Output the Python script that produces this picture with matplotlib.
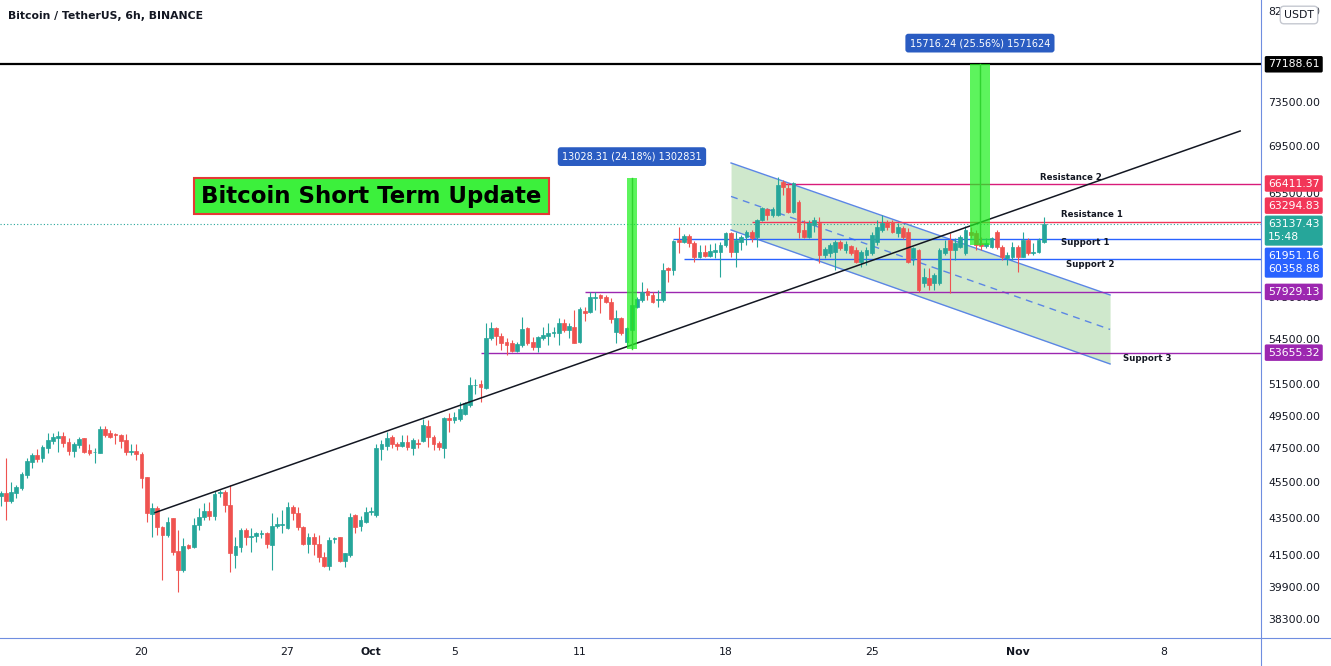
import numpy as np
import pandas as pd
import matplotlib
matplotlib.use('Agg')
import matplotlib.pyplot as plt
import matplotlib.dates as mdates
from matplotlib.lines import Line2D

# BTC/USDT 6h candles
start = '2021-09-13 06:00'
opens = [44790, 44940, 44500, 44980, 45230, 45990, 46760, 47160, 46960, 47600,
         48020, 48170, 48320, 47960, 47420, 47760, 48170, 47460, 47320, 47300,
         48720, 48470, 48430, 48370, 48060, 47360, 47400, 47190, 45860, 43780,
         44100, 43050, 42630, 43580, 41780, 40800, 42100, 41980, 43180, 43610,
         43950, 43690, 44940, 45030, 44280, 41570, 42010, 42910, 42540, 42580,
         42690, 42740, 42100, 43120, 43180, 43000, 44190, 43820, 43090, 42150,
         42510, 42150, 41480, 41000, 42400, 42510, 41270, 41570, 43730, 43120,
         43360, 43910, 43730, 47520, 47700, 48230, 47820, 47700, 47960, 47560,
         47900, 48020, 48920, 48260, 47900, 47560, 49400, 49290, 49330, 49670,
         50230, 51520, 51580, 51300, 54640, 55330, 54800, 54400, 54300, 53790,
         54180, 55330, 54400, 54060, 54640, 54800, 54990, 54990, 55680, 55220,
         55440, 54400, 56580, 56500, 57460, 57700, 57540, 57220, 55080, 56030,
         54400, 55220, 56860, 57340, 58000, 57700, 57340, 57340, 59680, 59560,
         61850, 61720, 62160, 61640, 60560, 60950, 60620, 60950, 60950, 61470,
         62420, 60950, 61720, 62110, 62500, 62110, 63420, 64290, 63830, 63830,
         66570, 66020, 64100, 64910, 62640, 62110, 63030, 63160, 60700, 60830,
         60950, 61720, 61080, 61390, 61080, 60180, 60700, 60830, 61720, 62640,
         63290, 63290, 62380, 62770, 62500, 60440, 61080, 58560, 58930, 58560,
         58560, 60830, 61850, 61080, 61330, 60850, 62500, 62380, 61620, 61390,
         61330, 62500, 61330, 60440, 60560, 61330, 60560, 61850, 60830, 60950,
         61720]
highs = [45070, 46960, 45600, 45420, 46180, 47000, 47300, 47500, 47760, 48470,
         48510, 48610, 48530, 48170, 47960, 48230, 48170, 47820, 47560, 48920,
         48920, 48680, 48470, 48430, 48430, 47820, 47820, 47340, 45870, 44380,
         44230, 43120, 43630, 43580, 42900, 42450, 42150, 43540, 44100, 44380,
         44470, 45090, 45130, 45130, 45420, 42540, 43000, 43000, 43000, 42810,
         42910, 42810, 43820, 43610, 44000, 44470, 44280, 44150, 43120, 42730,
         42730, 42630, 41750, 42540, 42540, 42540, 41690, 43860, 43780, 43670,
         44150, 44150, 47820, 48060, 48570, 48370, 47960, 48370, 48370, 48170,
         48100, 49330, 49290, 48370, 48020, 49500, 49730, 49810, 50440, 50440,
         52020, 51890, 51840, 55680, 55790, 55440, 54990, 54640, 54520, 54400,
         56150, 55440, 54750, 54800, 55440, 55680, 55440, 56030, 55960, 55680,
         56630, 56860, 56860, 57950, 57950, 57780, 57700, 57460, 56630, 56150,
         55440, 57580, 57580, 58680, 58190, 57950, 58070, 60060, 59800, 61850,
         62890, 62320, 62320, 61800, 61470, 61470, 61540, 61600, 61720, 62500,
         62500, 62500, 62240, 62640, 62640, 63480, 64500, 64370, 64460, 66990,
         66710, 66440, 66570, 65050, 63420, 63420, 63690, 63690, 61330, 61600,
         61850, 61850, 61800, 61470, 61330, 61080, 61330, 62500, 63420, 63830,
         63420, 63420, 63160, 62950, 62770, 61330, 61130, 59680, 59680, 59310,
         61210, 61850, 62380, 61980, 62240, 62950, 62890, 62640, 62110, 62010,
         62060, 62640, 61470, 60950, 61720, 61470, 62500, 61980, 61640, 61980,
         63690]
lows = [44230, 43450, 44380, 44660, 45130, 45800, 46380, 46760, 46760, 47260,
        47820, 47360, 47660, 47160, 47060, 47560, 47260, 47160, 46700, 47260,
        48260, 48170, 47820, 47560, 47160, 47160, 46860, 45230, 43360, 42540,
        42630, 40280, 42540, 41570, 39700, 40710, 41890, 41920, 42910, 43450,
        43450, 43450, 44750, 43910, 40710, 40880, 41750, 42100, 41750, 42270,
        42450, 41920, 40800, 43000, 42730, 42940, 43450, 42910, 42100, 41660,
        41570, 41220, 40970, 40800, 42220, 41220, 40970, 41480, 42760, 42870,
        43270, 43730, 43630, 46860, 47460, 47560, 47460, 47660, 47460, 47160,
        47560, 47960, 47660, 47460, 47460, 46960, 48570, 49090, 49250, 49600,
        50120, 50930, 50440, 51240, 54520, 54180, 53840, 53500, 53720, 53720,
        54060, 54180, 53840, 53720, 54520, 54180, 54750, 54180, 55100, 54640,
        54340, 54300, 55860, 56390, 56630, 56390, 57100, 55700, 54300, 54870,
        54060, 55100, 56750, 57220, 57340, 57100, 56860, 57220, 58680, 59180,
        60830, 61600, 61330, 60180, 60440, 60520, 60520, 60440, 59000, 61330,
        60560, 59800, 61080, 61470, 61720, 61330, 63370, 63420, 63690, 63750,
        65470, 63970, 63970, 61980, 61980, 61980, 62500, 60060, 60440, 60560,
        59560, 61080, 60830, 60700, 60060, 59800, 59930, 60700, 61470, 62500,
        62640, 62380, 62110, 61900, 60060, 59930, 57950, 58310, 58070, 58070,
        58440, 60700, 57830, 60310, 61210, 60700, 61980, 61080, 61080, 61230,
        61210, 61130, 60310, 59930, 60310, 59430, 60520, 60700, 60700, 60830,
        61600]
closes = [44980, 44500, 45030, 45320, 46050, 46800, 47160, 46900, 47660, 48060,
          48230, 48320, 47900, 47420, 47820, 48100, 47360, 47260, 47360, 48720,
          48370, 48260, 48390, 48020, 47360, 47420, 47200, 45800, 43820, 44100,
          43090, 42630, 43360, 41750, 40800, 42050, 41960, 43180, 43610, 43950,
          43670, 44900, 45030, 44280, 41660, 42050, 42910, 42540, 42580, 42730,
          42740, 42150, 43120, 43230, 43230, 44150, 43820, 43050, 42150, 42510,
          42150, 41450, 41000, 42360, 42450, 41270, 41660, 43610, 43090, 43450,
          43910, 43970, 47560, 47820, 48180, 47820, 47700, 47960, 47620, 48060,
          47820, 48980, 48230, 47820, 47620, 49400, 49290, 49460, 49960, 50340,
          51520, 51540, 51370, 54640, 55330, 54800, 54300, 54180, 53790, 54250,
          55260, 54300, 54060, 54710, 54870, 54990, 55060, 55720, 55220, 55490,
          54340, 56680, 56390, 57580, 57580, 57460, 57200, 55960, 56030, 54990,
          55330, 56980, 57390, 57950, 57700, 57220, 57390, 59560, 59560, 61800,
          61720, 62160, 61640, 60560, 60950, 60620, 61030, 61080, 61470, 62380,
          60950, 61850, 62110, 62500, 61980, 63420, 64370, 63830, 64290, 66300,
          66150, 64100, 66440, 62500, 62110, 63160, 63420, 60700, 61130, 61470,
          61720, 61210, 61540, 60830, 60180, 60950, 61080, 62240, 62890, 63160,
          62890, 62500, 62890, 62110, 60180, 61210, 58070, 59050, 58440, 59180,
          61080, 61210, 61080, 61600, 62110, 62640, 62240, 61470, 61390, 61600,
          61980, 61290, 60560, 60700, 61330, 60560, 61850, 60830, 60950, 61850,
          63137.43]

# drawings on the chart
level_prices = [66411.37, 63294.83, 61951.16, 60358.88, 57929.13, 53655.32]
level_starts = ['2021-10-20 20:00', '2021-10-19 06:00', '2021-10-15 12:00',
                '2021-10-16 00:00', '2021-10-11 06:00', '2021-10-06 07:00']
level_colors = ['#d81b7a', '#f23658', '#2962ff', '#2962ff', '#9c27b0', '#9c27b0']
level_boxes = ['#f23658', '#f23658', None, None, '#9c27b0', '#9c27b0']

target_price = 77188.61
last_price = 63137.43

trend_days = ['2021-09-20 15:30', '2021-11-11 16:00']
trend_prices = [43855, 70960]

channel_days = ['2021-10-18 06:15', '2021-11-05 10:20']
channel_upper = [68155, 57705]
channel_mid = [65340, 55250]
channel_lower = [62635, 52896]

range_days = [('2021-10-13 06:30', '2021-10-13 18:00'),
              ('2021-10-29 17:15', '2021-10-30 16:00')]
range_lows = [53880, 61488]
range_deltas = [13028.31, 15716.24]
range_pcts = [24.18, 25.56]

axis_ticks = [82500, 73500, 69500, 65500, 57500, 54500, 51500, 49500, 47500,
              45500, 43500, 41500, 39900, 38300]
date_ticks = ['2021-09-20', '2021-09-27', '2021-10-01', '2021-10-05', '2021-10-11',
              '2021-10-18', '2021-10-25', '2021-11-01', '2021-11-08']
date_labels = ['20', '27', 'Oct', '5', '11', '18', '25', 'Nov', '8']

plt.rcParams['font.family'] = ['DejaVu Sans']
TXT = '#131722'
UP, DOWN = '#26a69a', '#ef5350'

W, H = 1331, 666
fig = plt.figure(figsize=(W / 100, H / 100), dpi=100)
ax = fig.add_axes([0, 28 / H, 1261 / W, 638 / H])
ax.set_yscale('log')
oct1 = mdates.date2num(pd.Timestamp('2021-10-01'))
ax.set_xlim(oct1 - 17.785, oct1 + 42.666)
ax.set_ylim(37440, 83706)
for s in ax.spines.values():
    s.set_visible(False)
ax.set_xticks([])
ax.set_yticks([])
ax.yaxis.set_minor_locator(matplotlib.ticker.NullLocator())

def dn(s):
    return mdates.date2num(pd.Timestamp(s))

xmax = ax.get_xlim()[1]

# channel
cx = [dn(d) for d in channel_days]
ax.fill_between(cx, channel_lower, channel_upper, color='#cfe8cc', zorder=1, lw=0)
ax.plot(cx, channel_upper, color='#5b86e5', lw=1, zorder=2)
ax.plot(cx, channel_lower, color='#5b86e5', lw=1, zorder=2)
ax.plot(cx, channel_mid, color='#5b86e5', lw=1, ls=(0, (5, 4)), zorder=2)

# horizontal levels
for p, st, col in zip(level_prices, level_starts, level_colors):
    ax.hlines(p, dn(st), xmax, colors=col, lw=1, zorder=2)
ax.axhline(target_price, color='black', lw=1.6, zorder=2)
ax.axhline(last_price, color=UP, lw=0.8, ls=(0, (1, 2)), zorder=2)

# trend line
ax.plot([dn(d) for d in trend_days], trend_prices, color='#131722', lw=1.1, zorder=5)

# candles
times = pd.date_range(start, periods=len(opens), freq='6h')
x = mdates.date2num(times)
o, h, l, c = (np.array(v, dtype=float) for v in (opens, highs, lows, closes))
cols = np.where(c >= o, UP, DOWN)
ax.vlines(x, l, h, colors=cols, lw=0.8, zorder=3)
ax.bar(x, np.abs(c - o), bottom=np.minimum(o, c), width=0.18, color=cols,
       edgecolor=cols, lw=0.5, zorder=4)

# price range bars
for (d0, d1), lo, dl, pc in zip(range_days, range_lows, range_deltas, range_pcts):
    a, b = dn(d0), dn(d1)
    ax.fill_between([a, b], [lo, lo], [lo + dl, lo + dl], color='#1ff01f', alpha=0.72,
                    lw=0, zorder=6)
    ax.plot([(a + b) / 2] * 2, [lo, lo + dl], color='#2fd42f', lw=1, zorder=6)
    ax.annotate(f'{dl:.2f} ({pc:.2f}%) {round(dl * 100)}', xy=((a + b) / 2, lo + dl),
                xytext=(0, 21), textcoords='offset pixels', ha='center', va='center',
                fontsize=7, color='white', zorder=8,
                bbox=dict(boxstyle='round,pad=0.45,rounding_size=0.3', fc='#2a5cc2', ec='none'))

# level names
names = [('Resistance 2', '2021-11-02 01:40', level_prices[0], 6),
         ('Resistance 1', '2021-11-03 02:00', level_prices[1], 7),
         ('Support 1', '2021-11-03 02:00', level_prices[2], -4),
         ('Support 2', '2021-11-03 07:40', level_prices[3], -5),
         ('Support 3', '2021-11-06 01:10', level_prices[5], -6)]
for txt, d, p, off in names:
    ax.annotate(txt, xy=(dn(d), p), xytext=(0, off), textcoords='offset pixels',
                ha='left', va='center', fontsize=6.2, weight='bold', color=TXT, zorder=7)

# title box
fig.text(371.5 / W, 1 - 196 / H, 'Bitcoin Short Term Update', fontsize=16.5, weight='bold',
         ha='center', va='center', color='black',
         bbox=dict(boxstyle='square,pad=0.3', fc='#3cf03c', ec='#e53935', lw=1.5))
fig.text(8 / W, 1 - 16 / H, 'Bitcoin / TetherUS, 6h, BINANCE', fontsize=7.8,
         weight='semibold', ha='left', va='center', color=TXT)

# right price scale
yax = ax.get_yaxis_transform()
lx = 1268 / 1261
for t in axis_ticks:
    ax.text(lx, t, f'{t:.2f}', transform=yax, fontsize=7.8, color=TXT, ha='left',
            va='center', clip_on=False, zorder=10)

def pricebox(p, label, fc, off=0, fcol='white'):
    ax.annotate(label, xy=(lx, p), xycoords=yax, xytext=(0, off), textcoords='offset pixels',
                ha='left', va='center', fontsize=7.8, color=fcol, zorder=12, linespacing=1.45,
                annotation_clip=False,
                bbox=dict(boxstyle='round,pad=0.3,rounding_size=0.15', fc=fc, ec='none'))

pricebox(target_price, f'{target_price:.2f}', 'black')
pricebox(level_prices[0], f'{level_prices[0]:.2f}', level_boxes[0], 0)
pricebox(level_prices[1], f'{level_prices[1]:.2f}', level_boxes[1], 16)
pricebox(last_price, f'{last_price:.2f}\n15:48', UP, -7)
pricebox(level_prices[2], f'{level_prices[2]:.2f}\n{level_prices[3]:.2f}', '#2962ff', -24)
pricebox(level_prices[4], f'{level_prices[4]:.2f}', level_boxes[4], 0)
pricebox(level_prices[5], f'{level_prices[5]:.2f}', level_boxes[5], 0)

fig.text(1299 / W, 1 - 15 / H, 'USDT', fontsize=7.8, ha='center', va='center', color=TXT,
         zorder=20, bbox=dict(boxstyle='round,pad=0.35', fc='white', ec='#c5c8d0'))

# date scale
xax = ax.get_xaxis_transform()
for d, lab in zip(date_ticks, date_labels):
    ax.text(dn(d), -14 / 638, lab, transform=xax, fontsize=7.8, ha='center', va='center',
            color=TXT, weight='bold' if lab in ('Oct', 'Nov') else 'normal', clip_on=False)

# scale borders
fig.add_artist(Line2D([0, 1], [28 / H, 28 / H], transform=fig.transFigure,
                      color='#6f8ee0', lw=0.8))
fig.add_artist(Line2D([1261 / W, 1261 / W], [0, 1], transform=fig.transFigure,
                      color='#6f8ee0', lw=0.8))

fig.savefig('out.png', dpi=100, facecolor='white')
